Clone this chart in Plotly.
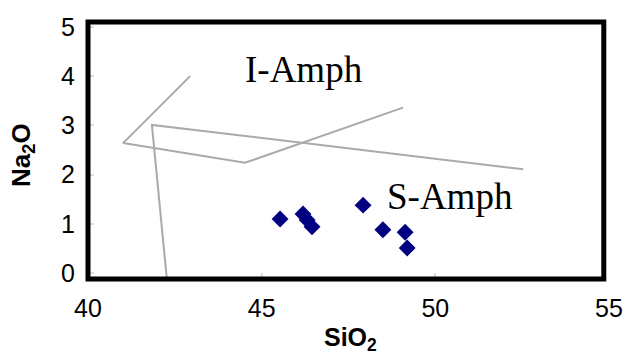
import plotly.graph_objects as go

# Data
sio2 = [45.53, 46.19, 46.31, 46.45, 47.92, 48.49, 49.13, 49.19]
na2o = [1.10, 1.20, 1.08, 0.94, 1.38, 0.88, 0.83, 0.51]

# Field boundary lines (gray)
line_a_x = [42.94, 41.01, 44.52, 49.07]
line_a_y = [4.00, 2.64, 2.24, 3.36]
line_b_x = [52.53, 41.84, 42.27]
line_b_y = [2.11, 3.01, -0.12]

x_ticks = [40, 45, 50, 55]
y_ticks = [0, 1, 2, 3, 4, 5]

labels = [("I-Amph", 46.22, 4.14), ("S-Amph", 50.42, 1.56)]

fig = go.Figure()
fig.add_trace(go.Scatter(x=line_a_x, y=line_a_y, mode="lines",
                         line=dict(color="#aaaaaa", width=2), showlegend=False))
fig.add_trace(go.Scatter(x=line_b_x, y=line_b_y, mode="lines",
                         line=dict(color="#aaaaaa", width=2), showlegend=False))
fig.add_trace(go.Scatter(x=sio2, y=na2o, mode="markers",
                         marker=dict(symbol="diamond", size=13, color="#000080"),
                         showlegend=False))

for txt, x, y in labels:
    fig.add_annotation(x=x, y=y, text=txt, showarrow=False,
                       font=dict(family="Liberation Serif", size=37, color="black"),
                       xanchor="center", yanchor="middle")

# axis titles
fig.add_annotation(xref="paper", yref="paper", x=0.503, y=-0.235,
                   text="<b>SiO<sub>2</sub></b>", showarrow=False,
                   font=dict(family="Liberation Sans", size=25, color="black"),
                   xanchor="center", yanchor="middle")
fig.add_annotation(xref="paper", yref="paper", x=-0.127, y=0.482,
                   text="<b>Na<sub>2</sub>O</b>", showarrow=False, textangle=-90,
                   font=dict(family="Liberation Sans", size=26, color="black"),
                   xanchor="center", yanchor="middle")

# frame
fig.add_shape(type="rect", xref="paper", yref="paper", x0=0, x1=0.990, y0=0, y1=1,
              line=dict(color="black", width=5), layer="above")

fig.update_layout(
    width=627, height=354,
    margin=dict(l=88, r=18, t=22, b=75, autoexpand=False),
    paper_bgcolor="white", plot_bgcolor="white",
    font=dict(family="Liberation Sans", size=24, color="black"),
)
fig.update_xaxes(range=[40, 55], tickvals=x_ticks, ticktext=[str(v) for v in x_ticks],
                 showgrid=False, zeroline=False, showline=False, automargin=False,
                 ticks="inside", ticklen=6, tickcolor="#dddddd", tickwidth=2,
                 ticklabelstandoff=12, tickfont=dict(size=25))
fig.update_yaxes(range=[-0.12, 5.1], tickvals=y_ticks, ticktext=[str(v) for v in y_ticks],
                 showgrid=False, zeroline=False, showline=False, automargin=False,
                 ticks="inside", ticklen=6, tickcolor="#dddddd", tickwidth=2,
                 ticklabelstandoff=12, tickfont=dict(size=25))

fig.write_html("out.html", config={"displayModeBar": False},
               post_script="document.body.style.margin='0';document.body.style.overflow='hidden';")
